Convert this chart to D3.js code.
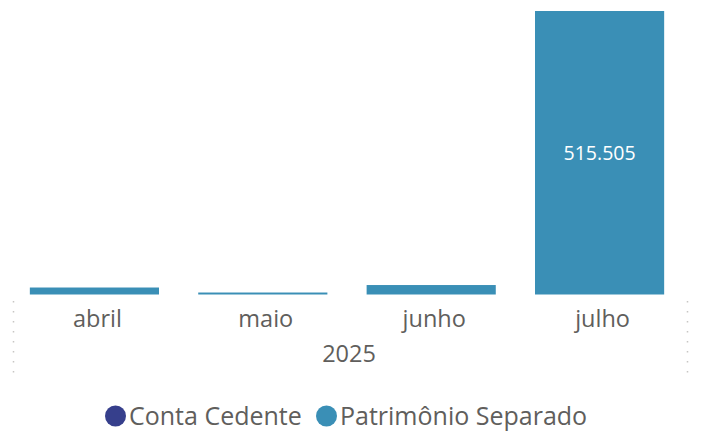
<!DOCTYPE html>
<html>
<head>
<meta charset="utf-8">
<script src="https://cdn.jsdelivr.net/npm/d3@7"></script>
<style>
  body { margin: 0; background: #fff; }
  text { font-family: "Segoe UI", "Open Sans", sans-serif; }
</style>
</head>
<body>
<script>
// colunas empilhadas por mês
let meses = ['abril', 'maio', 'junho', 'julho']
let ano = '2025'
let series = ['Conta Cedente', 'Patrimônio Separado']
let contaCedente = [0, 0, 0, 0]
let patrimonioSeparado = [12700, 3600, 17200, 515505]
let cores = ['#363F8C', '#3A8FB6']

let W = 704
let H = 435
let svg = d3.select('body').append('svg')
  .attr('width', W)
  .attr('height', H)

// tabela para o stack
let tabela = meses.map(function (m, i) {
  return { mes: m, 'Conta Cedente': contaCedente[i], 'Patrimônio Separado': patrimonioSeparado[i] }
})
let pilhas = d3.stack().keys(series)(tabela)

let x = d3.scaleBand()
  .domain(meses)
  .range([13, 681])
  .paddingInner(0.233)
  .paddingOuter(0.1)
let y = d3.scaleLinear()
  .domain([0, 515505])
  .range([294.5, 11])

svg.selectAll('g.serie')
  .data(pilhas)
  .enter()
  .append('g')
  .attr('class', 'serie')
  .attr('fill', function (d, i) { return cores[i] })
  .selectAll('rect')
  .data(function (d) { return d })
  .enter()
  .append('rect')
  .attr('x', function (d) { return x(d.data.mes) })
  .attr('width', x.bandwidth())
  .attr('y', function (d) { return y(d[1]) })
  .attr('height', function (d) { return y(d[0]) - y(d[1]) })

// rótulo de dados só onde cabe
let fmt = function (v) { return d3.format(',')(v).replace(/,/g, '.') }
svg.append('g').selectAll('text')
  .data(pilhas[1].filter(function (d) { return y(d[0]) - y(d[1]) > 30 }))
  .enter()
  .append('text')
  .attr('x', function (d) { return x(d.data.mes) + x.bandwidth() / 2 })
  .attr('y', function (d) { return (y(d[0]) + y(d[1])) / 2 })
  .attr('dy', '0.35em')
  .attr('text-anchor', 'middle')
  .attr('fill', '#fff')
  .attr('font-size', '19.5px')
  .text(function (d) { return fmt(d[1] - d[0]) })

// eixo x (sem linha)
let eixo = svg.append('g')
  .attr('transform', 'translate(0,294.5)')
  .call(d3.axisBottom(x).tickSize(0).tickPadding(16))
eixo.select('.domain').remove()
eixo.selectAll('text')
  .attr('font-size', '23.5px')
  .attr('fill', '#605E5C')
  .attr('dx', '3')
  .style('font-family', '"Segoe UI", "Open Sans", sans-serif')

svg.append('text')
  .attr('x', 349)
  .attr('y', 354)
  .attr('dy', '0.35em')
  .attr('text-anchor', 'middle')
  .attr('font-size', '23.5px')
  .attr('fill', '#605E5C')
  .text(ano)

// linhas pontilhadas da hierarquia
;[13.5, 687.5].forEach(function (lx) {
  svg.append('line')
    .attr('x1', lx).attr('x2', lx)
    .attr('y1', 301).attr('y2', 374)
    .attr('stroke', '#C8C6C4')
    .attr('stroke-width', 1.5)
    .attr('stroke-dasharray', '1.5,8.5')
})

// legenda
let leg = svg.append('g').attr('transform', 'translate(0,416)')
let lx0 = [105, 316]
series.forEach(function (s, i) {
  leg.append('circle')
    .attr('cx', lx0[i] + 10.5)
    .attr('cy', 0)
    .attr('r', 10.5)
    .attr('fill', cores[i])
  leg.append('text')
    .attr('x', lx0[i] + 24)
    .attr('y', 0)
    .attr('dy', '0.35em')
    .attr('font-size', '25px')
    .attr('fill', '#605E5C')
    .text(s)
})
</script>
</body>
</html>
